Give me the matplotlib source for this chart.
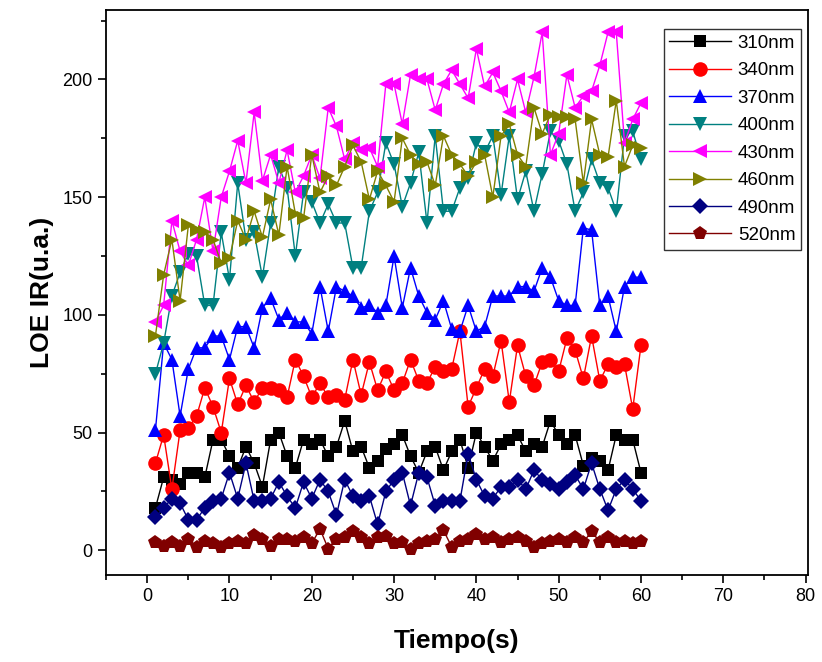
import matplotlib
matplotlib.use("Agg")
import matplotlib.pyplot as plt
import numpy as np

plt.rcParams['font.family'] = ['Liberation Sans', 'DejaVu Sans']

t = list(range(1, 61))

s310 = [18,31,30,28,33,33,31,47,47,40,35,44,37,27,
        47,50,40,35,47,45,47,40,44,55,42,44,35,38,43,
        45,49,40,33,42,44,34,42,47,35,50,44,38,45,47,
        49,42,45,44,55,49,45,49,36,39,38,34,49,47,47,33]
s340 = [37,49,26,51,52,57,69,61,50,73,62,70,63,69,
        69,68,65,81,74,65,71,65,66,64,81,66,80,68,76,
        68,71,81,72,71,78,76,77,93,61,69,77,74,89,63,
        87,74,70,80,81,76,90,85,73,91,72,79,78,79,60,87]
s370 = [51,88,81,57,77,86,86,91,91,81,95,95,86,103,
        107,98,101,97,97,92,112,93,112,110,108,103,104,101,104,
        125,103,120,108,101,98,106,94,93,104,93,95,108,108,108,
        112,112,110,120,116,106,104,104,137,136,104,108,93,112,116,116]
s400 = [75,88,108,118,126,125,104,104,135,115,156,132,135,116,
        139,163,154,125,152,148,139,147,139,139,120,120,144,152,173,
        164,146,156,169,139,176,144,144,154,158,173,169,176,151,176,
        149,161,144,160,178,174,164,144,152,166,156,154,144,176,178,166]
s430 = [97,104,140,127,121,132,150,127,150,161,174,156,186,157,
        168,156,170,152,159,168,158,188,180,166,173,170,171,163,198,
        198,181,202,200,200,187,198,204,198,192,213,197,203,195,186,
        200,186,201,220,168,177,202,188,193,195,206,220,220,173,183,190]
s460 = [91,117,132,106,138,136,135,132,122,124,140,132,144,133,
        149,134,163,143,141,168,152,159,155,163,172,165,149,161,155,
        148,175,168,164,165,155,176,168,164,159,165,168,150,176,181,
        168,163,188,177,185,184,184,183,156,183,168,167,191,163,172,171]
s490 = [14,18,22,20,13,13,18,21,22,33,22,37,21,21,
        22,29,23,18,29,22,30,25,15,30,23,21,23,11,25,
        30,33,19,33,31,19,21,21,21,41,30,23,22,27,27,
        30,26,34,30,28,26,29,32,26,37,26,17,26,30,26,21]
s520 = [3.5,2,3.5,2,5,1.5,4,3,1.5,3,4,3,6.5,5,
        2,5,5,4,5.5,3,9,0.7,5,5.5,8,5.5,3,5.5,6,
        3,3.5,0.7,3,4,5,8.5,1.5,4,5,7,5,5.5,3.5,5,
        5.5,4,1.5,3,4,5,3.5,5.5,3.5,8,3.5,5.5,3.5,4,3,4]

labels = ['310nm', '340nm', '370nm', '400nm', '430nm', '460nm', '490nm', '520nm']
series = [s310, s340, s370, s400, s430, s460, s490, s520]
colors = ['#000000', '#FF0000', '#0000FF', '#008080', '#FF00FF', '#808000', '#000080', '#800000']
markers = ['s', 'o', '^', 'v', '<', '>', 'D', 'p']
msizes = [9, 10.5, 10.5, 10.5, 10.5, 10.5, 8.5, 10.5]

fig = plt.figure(figsize=(8.22, 6.62), dpi=100)
ax = fig.add_axes([0.129, 0.131, 0.854, 0.854])

for y, lab, c, m, ms in zip(series, labels, colors, markers, msizes):
    ax.plot(t, y, color=c, marker=m, markersize=ms, linewidth=1.0,
            markeredgewidth=0, label=lab)

ax.set_xlim(-5, 80.3)
ax.set_ylim(-10.6, 229.5)
ax.set_xticks(np.arange(0, 81, 10))
ax.set_xticks(np.arange(-5, 81, 5), minor=True)
ax.set_yticks(np.arange(0, 201, 50))
ax.set_yticks(np.arange(0, 230, 25), minor=True)
ax.tick_params(which='major', direction='out', length=6, width=1.2, labelsize=13,
               top=False, right=False)
ax.tick_params(which='minor', direction='out', length=3.5, width=1.2, top=False, right=False)
for sp in ax.spines.values():
    sp.set_linewidth(1.3)

ax.set_xlabel('Tiempo(s)', fontsize=19, fontweight='bold', labelpad=17)
ax.set_ylabel('LOE IR(u.a.)', fontsize=19, fontweight='bold', labelpad=6)

leg = ax.legend(loc='upper right', bbox_to_anchor=(0.99, 0.966), fontsize=13.5,
                frameon=True, fancybox=False, edgecolor='black', handlelength=3.3,
                borderpad=0.3, labelspacing=0.55, handletextpad=0.35, borderaxespad=0)
leg.get_frame().set_linewidth(1.0)

fig.savefig('out.png', dpi=100)
